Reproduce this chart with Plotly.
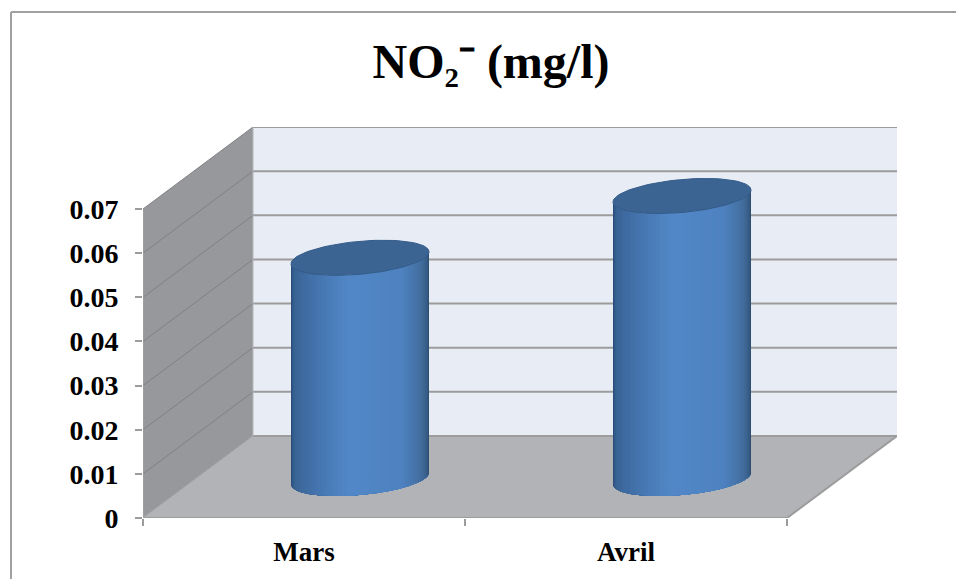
import numpy as np
import plotly.graph_objects as go

categories = ["Mars", "Avril"]
values = [0.05, 0.064]
y_ticks = [0, 0.01, 0.02, 0.03, 0.04, 0.05, 0.06, 0.07]
y_labels = ["0", "0.01", "0.02", "0.03", "0.04", "0.05", "0.06", "0.07"]

# layout geometry
W, H = 956, 579
L, R, T, B = 143, 59, 127, 61
PX_X = 322.0          # pixels per category
PX_Y = 4414.0         # pixels per unit of value
DX = 110 / PX_X       # depth of the 3-D box
DY = 82 / PX_Y
Y_MAX = 0.07
X_POS = [0.5, 1.5]
RX = 69 / PX_X        # cylinder radius
RY = 16.5 / PX_Y
SKEW = 6 / PX_Y       # tilt of the ellipses
BASE = -1.5 / PX_Y    # resting point on the floor
SHIFT = 1 / PX_X

GRID = "#9c9c9c"
fig = go.Figure()


def poly(xs, ys, fill, line=None, lw=0):
    fig.add_trace(go.Scatter(x=xs, y=ys, mode="lines", fill="toself", fillcolor=fill,
                             line=dict(color=line or fill, width=lw), hoverinfo="skip",
                             showlegend=False))


def seg(xs, ys, color=GRID, lw=2):
    fig.add_trace(go.Scatter(x=xs, y=ys, mode="lines", line=dict(color=color, width=lw),
                             hoverinfo="skip", showlegend=False))


# walls
poly([DX, 2 + DX, 2 + DX, DX], [DY, DY, Y_MAX + DY, Y_MAX + DY], "#e8ecf5")
poly([0, DX, DX, 0], [0, DY, Y_MAX + DY, Y_MAX], "#97989b")
poly([0, 2, 2 + DX, DX], [0, 0, DY, DY], "#b1b3b7")

# grid lines
for v in y_ticks[1:]:
    seg([DX, 2 + DX], [v + DY, v + DY])
    seg([0, DX], [v, v + DY], "#808185", 1)
seg([DX, 2 + DX], [DY, DY])
seg([0, DX], [0, DY], "#a4a5a8", 1)
seg([DX, DX], [DY, Y_MAX + DY], "#b5b6b9", 1)
seg([0, 2], [0, 0])
seg([2, 2 + DX], [0, DY])
seg([0, 0], [0, Y_MAX], "#a4a5a8", 1)

# cylinders
stops = [0, 0.03, 0.1, 0.25, 0.45, 0.7, 0.85, 0.95, 1]
r = [0x22, 0x2a, 0x38, 0x42, 0x52, 0x4e, 0x42, 0x33, 0x26]
g = [0x3e, 0x4e, 0x62, 0x70, 0x88, 0x82, 0x6c, 0x56, 0x44]
b = [0x62, 0x7a, 0x94, 0xa8, 0xc8, 0xc0, 0x9c, 0x7c, 0x68]
N = 48
for x0, val in zip(X_POS, values):
    cx = x0 + DX / 2 + SHIFT
    y_bot = DY / 2 + BASE
    y_top = y_bot + val
    t = np.linspace(np.pi, 0, N + 1)
    xs = cx + RX * np.cos(t)
    lower = -RY * np.sin(t) + SKEW * np.cos(t)
    # every strip runs to the right edge and the next one paints over it: no seams
    for i in range(N):
        u = (i + 0.5) / N
        col = "rgb(%d,%d,%d)" % (np.interp(u, stops, r), np.interp(u, stops, g), np.interp(u, stops, b))
        poly(np.r_[xs[i:], xs[i:][::-1]],
             np.r_[y_bot + lower[i:], (y_top + lower[i:])[::-1]],
             col)
    a = np.linspace(0, 2 * np.pi, 90)
    poly(cx + RX * np.cos(a), y_top + RY * np.sin(a) + SKEW * np.cos(a),
         "#3b6492", "#355c8a", 1)

fig.update_xaxes(range=[0, 2 + DX], showgrid=False, zeroline=False, showline=False,
                 tickmode="array", tickvals=X_POS, ticktext=["<b>%s</b>" % c for c in categories],
                 ticks="outside", ticklen=10, tickcolor="rgba(0,0,0,0)",
                 tickfont=dict(family="Liberation Serif", size=27, color="#000"),
                 minor=dict(tickmode="array", tickvals=[0, 1, 2], ticks="outside",
                            ticklen=7, tickwidth=2, tickcolor=GRID, showgrid=False))
fig.update_yaxes(range=[0, Y_MAX + DY], showgrid=False, zeroline=False, showline=False,
                 tickmode="array", tickvals=y_ticks, ticktext=["<b>%s</b>" % s for s in y_labels],
                 ticks="outside", ticklen=7, tickwidth=2, tickcolor=GRID, ticklabelstandoff=11,
                 tickfont=dict(family="Liberation Serif", size=28, color="#000"))
fig.update_layout(
    width=W, height=H, margin=dict(l=L, r=R, t=T, b=B, autoexpand=False),
    plot_bgcolor="#fff", paper_bgcolor="#fff",
    showlegend=False,
    font=dict(family="Liberation Serif", color="#000"),
    title=dict(text="<b>NO\u2082\u207b (mg/l)</b>", x=491 / W, y=1 - 61 / H,
               xanchor="center", yanchor="middle",
               font=dict(family="Liberation Serif", size=48, color="#000")),
    shapes=[
        dict(type="line", xref="paper", yref="paper",
             x0=-(L - 11) / (W - L - R), x1=(W - L) / (W - L - R),
             y0=(H - B - 12) / (H - T - B), y1=(H - B - 12) / (H - T - B),
             line=dict(color="#a0a0a0", width=2)),
        dict(type="line", xref="paper", yref="paper",
             x0=-(L - 11) / (W - L - R), x1=-(L - 11) / (W - L - R),
             y0=(H - B - 12) / (H - T - B), y1=-B / (H - T - B),
             line=dict(color="#a0a0a0", width=2)),
    ],
)
fig.write_html("out.html", config=dict(displayModeBar=False),
               post_script="document.body.style.margin='0';")
